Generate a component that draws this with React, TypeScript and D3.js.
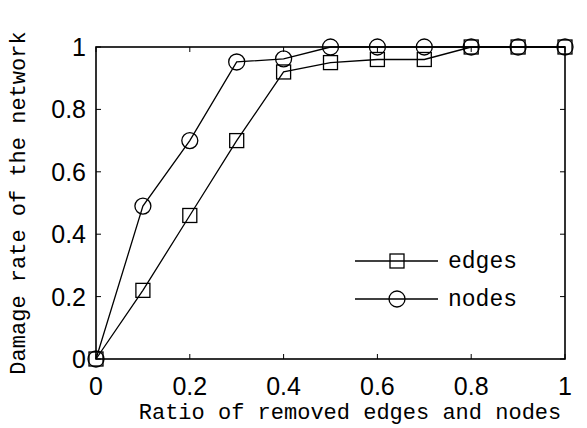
import * as d3 from "d3";

const ratios = [0, 0.1, 0.2, 0.3, 0.4, 0.5, 0.6, 0.7, 0.8, 0.9, 1];
const edgesDamage = [0, 0.22, 0.46, 0.7, 0.92, 0.95, 0.96, 0.96, 1, 1, 1];
const nodesDamage = [0, 0.49, 0.7, 0.952, 0.962, 1, 1, 1, 1, 1, 1];
const tickValues = [0, 0.2, 0.4, 0.6, 0.8, 1];
const tickLabels = ["0", "0.2", "0.4", "0.6", "0.8", "1"];

const W = 587;
const H = 428;
const left = 96;
const right = 565;
const top = 47;
const bottom = 359;

const mono = "'Liberation Mono', 'DejaVu Sans Mono', monospace";
const sans = "'Liberation Sans', Arial, sans-serif";

export default function App() {
  const x = d3.scaleLinear().domain([0, 1]).range([left, right]);
  const y = d3.scaleLinear().domain([0, 1]).range([bottom, top]);

  const line = d3
    .line<number>()
    .x((_d, i) => x(ratios[i]))
    .y((d) => y(d));

  const sq = 14; // square marker side
  const r = 8; // circle marker radius

  return (
    <svg
      width={W}
      height={H}
      style={{ position: "absolute", left: 0, top: 0, background: "#fff" }}
    >
      {/* frame */}
      <rect x={left} y={top} width={right - left} height={bottom - top} fill="none" stroke="#000" strokeWidth={1.6} />

      {/* ticks */}
      {tickValues.map((t) => (
        <g key={"t" + t} stroke="#000" strokeWidth={1}>
          <line x1={x(t)} x2={x(t)} y1={bottom} y2={bottom - 5} />
          <line x1={x(t)} x2={x(t)} y1={top} y2={top + 5} />
          <line x1={left} x2={left + 5} y1={y(t)} y2={y(t)} />
          <line x1={right} x2={right - 5} y1={y(t)} y2={y(t)} />
        </g>
      ))}

      {/* tick labels */}
      {tickValues.map((t, i) => (
        <text key={"xl" + t} x={x(t)} y={bottom + 36} textAnchor="middle" fontFamily={sans} fontSize={25}>
          {tickLabels[i]}
        </text>
      ))}
      {tickValues.map((t, i) => (
        <text key={"yl" + t} x={left - 10} y={y(t) + 9} textAnchor="end" fontFamily={sans} fontSize={25}>
          {tickLabels[i]}
        </text>
      ))}

      {/* series lines */}
      <path d={line(edgesDamage) ?? ""} fill="none" stroke="#000" strokeWidth={1.3} />
      <path d={line(nodesDamage) ?? ""} fill="none" stroke="#000" strokeWidth={1.3} />

      {/* markers */}
      {edgesDamage.map((v, i) => (
        <rect
          key={"e" + i}
          x={x(ratios[i]) - sq / 2}
          y={y(v) - sq / 2}
          width={sq}
          height={sq}
          fill="none"
          stroke="#000"
          strokeWidth={1.3}
        />
      ))}
      {nodesDamage.map((v, i) => (
        <circle key={"n" + i} cx={x(ratios[i])} cy={y(v)} r={r} fill="none" stroke="#000" strokeWidth={1.3} />
      ))}

      {/* legend */}
      <g stroke="#000" strokeWidth={1.3} fill="none">
        <line x1={355} x2={438} y1={261} y2={261} />
        <rect x={397 - sq / 2} y={261 - sq / 2} width={sq} height={sq} />
        <line x1={355} x2={438} y1={299} y2={299} />
        <circle cx={397} cy={299} r={r} />
      </g>
      <text x={448} y={268} fontFamily={mono} fontSize={23}>edges</text>
      <text x={448} y={306} fontFamily={mono} fontSize={23}>nodes</text>

      {/* axis titles */}
      <text x={350} y={419} textAnchor="middle" fontFamily={mono} fontSize={22}>
        Ratio of removed edges and nodes
      </text>
      <text
        transform="translate(25,203) rotate(-90)"
        textAnchor="middle"
        fontFamily={mono}
        fontSize={22}
      >
        Damage rate of the network
      </text>
    </svg>
  );
}
